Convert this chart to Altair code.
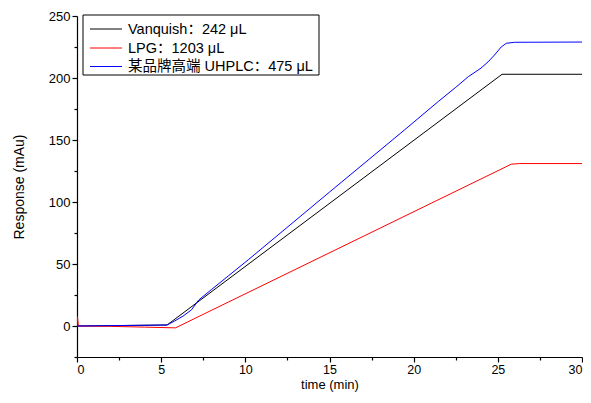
import altair as alt
import pandas as pd

series_names = ["Vanquish：242 μL", "LPG：1203 μL", "某品牌高端 UHPLC：475 μL"]
series_colors = ["#000000", "#ff0000", "#0000ff"]

black_t = [0, 5.35, 25.25, 30]
black_y = [0, 0.8, 203, 203]

red_t = [0, 0.03, 0.08, 2, 4, 5.85, 25.8, 26.3, 30]
red_y = [0, 7.5, 0, -0.3, -0.9, -1.5, 130.5, 131, 131]

blue_t = [0, 5.35, 5.8, 6.3, 6.8, 7.23, 8, 9, 10.2, 15, 19.48, 21.46, 22.5, 23.24, 24, 24.42, 24.8, 25.2, 25.5, 26, 30]
blue_y = [0, 0.8, 4, 8, 13, 21, 29.5, 40.5, 53.7, 108, 158.4, 181, 192.5, 201, 208, 213, 218.5, 225, 228, 228.8, 229]

x_ticks = [i * 2.5 for i in range(13)]
y_ticks = [-25 + 25 * i for i in range(12)]

rows = []
for name, ts, ys, k in [(series_names[0], black_t, black_y, 0),
                        (series_names[1], red_t, red_y, 1),
                        (series_names[2], blue_t, blue_y, 2)]:
    for i, (t, y) in enumerate(zip(ts, ys)):
        rows.append({"time": t, "resp": y, "series": name, "order": i, "k": k})
df = pd.DataFrame(rows)

font = "Arial, 'Liberation Sans', 'Noto Sans CJK SC'"

lines = alt.Chart(df).mark_line(strokeWidth=1, clip=True).encode(
    x=alt.X("time:Q", scale=alt.Scale(domain=[0, 30], nice=False, zero=False),
            axis=alt.Axis(values=x_ticks, title="time (min)", grid=False,
                          labelExpr="datum.value % 5 === 0 ? datum.label : ''",
                          tickSize={"condition": {"test": "datum.value % 5 === 0", "value": 5}, "value": 3},
                          labelPadding=1, labelFontSize=12.5,
                          titleFontSize=13, titlePadding=3)),
    y=alt.Y("resp:Q", scale=alt.Scale(domain=[-25, 250], nice=False, zero=False),
            axis=alt.Axis(values=y_ticks, title="Response (mAu)", grid=False,
                          labelExpr="datum.value % 50 === 0 ? datum.label : ''",
                          tickSize={"condition": {"test": "datum.value % 50 === 0", "value": 5}, "value": 3},
                          labelPadding=2, titlePadding=22)),
    color=alt.Color("series:N", scale=alt.Scale(domain=series_names, range=series_colors),
                    legend=None),
    detail="k:O",
    order="order:Q",
)

base = alt.Chart(pd.DataFrame({"a": [0]}))
layers = [lines]
layers.append(base.mark_rect(fill="#ffffff", stroke="#000000", strokeWidth=1).encode(
    x=alt.value(6), x2=alt.value(242), y=alt.value(-1), y2=alt.value(59)))
row_y = [13, 32, 50.5]
for name, col, yy in zip(series_names, series_colors, row_y):
    layers.append(base.mark_rule(stroke=col, color=col, strokeWidth=1).encode(
        x=alt.value(13), x2=alt.value(45), y=alt.value(yy)))
    layers.append(base.mark_text(align="left", baseline="middle", fontSize=14.5, font=font,
                                 color="#000000", text=name).encode(
        x=alt.value(51), y=alt.value(yy + 0.5)))

chart = alt.layer(*layers).properties(
    width=505, height=341,
    autosize=alt.AutoSizeParams(type="none"),
    padding={"left": 69, "top": 8, "right": 1, "bottom": 36},
).configure_view(stroke=None).configure_axis(
    labelFont=font, titleFont=font, labelFontSize=13, titleFontSize=14,
    titleFontWeight="normal", labelColor="#000000", titleColor="#000000",
    domainColor="#000000", tickColor="#000000", domainWidth=1.2, tickWidth=1.2,
)

chart.save("out.html", embed_options={"renderer": "svg", "actions": False})
